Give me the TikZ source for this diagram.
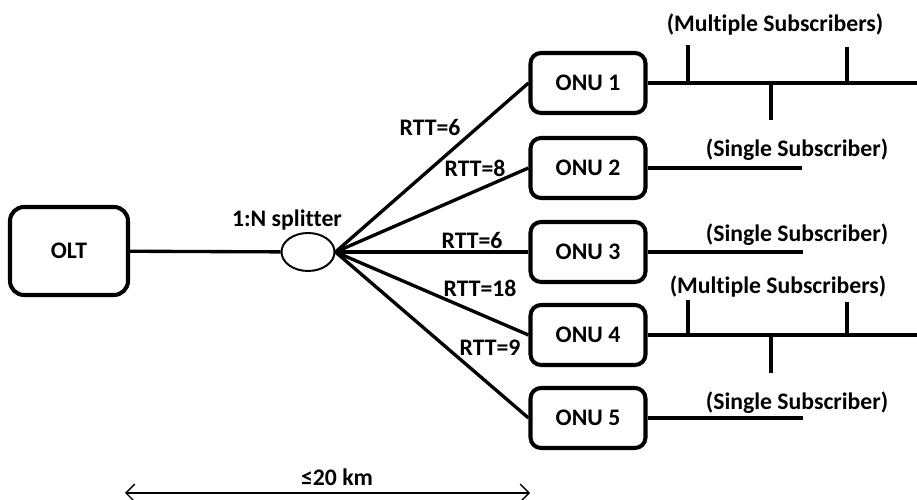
\documentclass[tikz,border=0pt]{standalone}
\usepackage{fontspec}
\setmainfont{Carlito}[Ligatures=NoCommon]
\usetikzlibrary{arrows.meta,shapes.geometric}

\tikzset{
  txt/.style={font=\fontsize{13.5}{16}\selectfont\bfseries},
  unit/.style={txt, draw, line width=2.3pt, rounded corners=6pt, minimum width=2.3cm,
    minimum height=1.2cm},
  fibre/.style={line width=1.9pt},
  lbl/.style={txt, inner sep=1pt}
}

\begin{document}
\begin{tikzpicture}
  \useasboundingbox(0,0) rectangle(18.34,10);
  \node[unit, minimum width=2.36cm, minimum height=1.76cm, rounded corners=8pt](olt) at(1.38,4.98){OLT};
  \node[draw, ellipse, line width=1.1pt, minimum width=1.06cm, minimum height=0.76cm, inner sep=0pt](spl) at(6.16,4.96){};
  \node[lbl](spllbl) at(5.74,5.6){1:N splitter};
  \node[unit](onu1) at(11.76,8.34){ONU 1};
  \node[unit](onu2) at(11.76,6.64){ONU 2};
  \node[unit](onu3) at(11.76,4.96){ONU 3};
  \node[unit](onu4) at(11.76,3.3){ONU 4};
  \node[unit](onu5) at(11.76,1.64){ONU 5};
  \draw[fibre](olt)--(spl);
  \draw[fibre](spl.east)--(onu1.west);
  \draw[fibre](spl.east)--(onu2.west);
  \draw[fibre](spl.east)--(onu3.west);
  \draw[fibre](spl.east)--(onu4.west);
  \draw[fibre](spl.east)--(onu5.west);
  \node[lbl](rtt1) at(8.6,7.44){RTT=6};
  \node[lbl](rtt2) at(9.5,6.64){RTT=8};
  \node[lbl](rtt3) at(9.44,5.2){RTT=6};
  \node[lbl](rtt4) at(9.6,4.24){RTT=18};
  \node[lbl](rtt5) at(9.8,3.04){RTT=9};
  % ONU 1 bus
  \coordinate(bus1) at(18.34,8.34);
  \coordinate(t1a) at(13.76,9.1);
  \coordinate(t1b) at(15.42,7.6);
  \coordinate(t1c) at(16.94,9.06);
  \draw[fibre](onu1.east)--(bus1);
  \draw[fibre](t1a)--(t1a|-bus1);
  \draw[fibre](t1b)--(t1b|-bus1);
  \draw[fibre](t1c)--(t1c|-bus1);
  \node[lbl](sub1) at(15.5,9.5){(Multiple Subscribers)};
  % ONU 2 and 3
  \coordinate(end2) at(16.04,6.64);
  \draw[fibre](onu2.east)--(end2);
  \node[lbl](sub2) at(15.94,7.0){(Single Subscriber)};
  \coordinate(end3) at(16.06,4.96);
  \draw[fibre](onu3.east)--(end3);
  \node[lbl](sub3) at(15.94,5.3){(Single Subscriber)};
  % ONU 4 bus
  \coordinate(bus4) at(18.34,3.3);
  \coordinate(t4a) at(13.76,4.0);
  \coordinate(t4b) at(15.42,2.54);
  \coordinate(t4c) at(16.94,3.96);
  \draw[fibre](onu4.east)--(bus4);
  \draw[fibre](t4a)--(t4a|-bus4);
  \draw[fibre](t4b)--(t4b|-bus4);
  \draw[fibre](t4c)--(t4c|-bus4);
  \node[lbl](sub4) at(15.56,4.26){(Multiple Subscribers)};
  % ONU 5
  \coordinate(end5) at(16.06,1.64);
  \draw[fibre](onu5.east)--(end5);
  \node[lbl](sub5) at(15.94,1.94){(Single Subscriber)};
  % reach
  \coordinate(reachl) at(2.5,0.14);
  \coordinate(reachr) at(10.6,0.14);
  \draw[{Straight Barb[length=5pt,width=10pt]}-{Straight Barb[length=5pt,width=10pt]}, line width=0.8pt](reachl)--(reachr);
  \node[lbl](reach) at(6.74,0.46){≤20 km};
\end{tikzpicture}
\end{document}
